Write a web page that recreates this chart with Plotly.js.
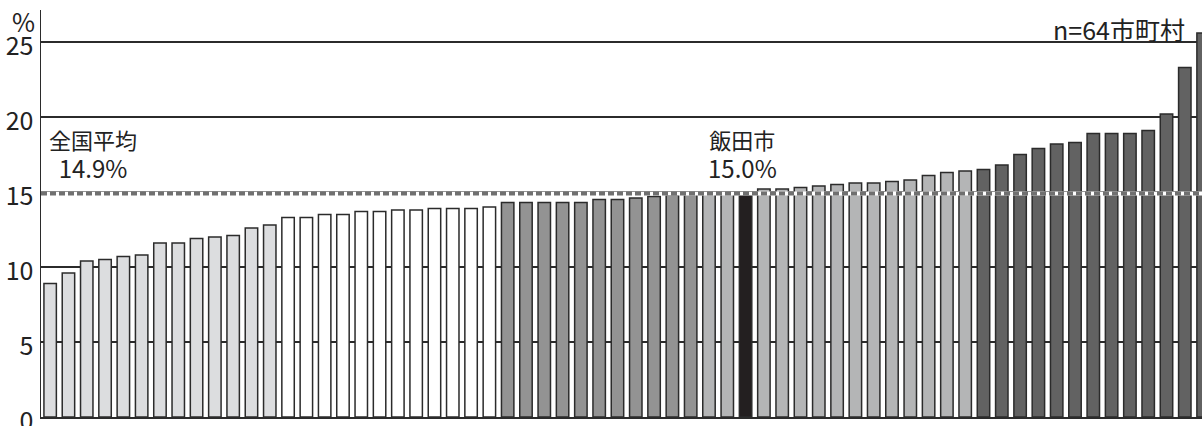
<!DOCTYPE html>
<html>
<head>
<meta charset="utf-8">
<script src="https://cdn.plot.ly/plotly-3.0.1.min.js"></script>
<style>
  html, body { margin: 0; padding: 0; background: #fff; }
  #chart { width: 1202px; height: 426px; }
</style>
</head>
<body>
<div id="chart"></div>
<script>
// ratio per municipality, sorted ascending (n=64)
var values = [
    8.9, 9.6, 10.4, 10.5, 10.7, 10.8, 11.6, 11.6, 11.9, 12.0, 12.1, 12.6, 12.8,
    13.3, 13.3, 13.5, 13.5, 13.7, 13.7, 13.8, 13.8, 13.9, 13.9, 13.9, 14.0,
    14.3, 14.3, 14.3, 14.3, 14.3, 14.5, 14.5, 14.6, 14.7, 14.8, 14.9,
    15.0, 15.0, 15.0, 15.2, 15.2, 15.3, 15.4, 15.5, 15.6, 15.6, 15.7, 15.8, 16.1, 16.3, 16.4,
    16.5, 16.8, 17.5, 17.9, 18.2, 18.3, 18.9, 18.9, 18.9, 19.1, 20.2, 23.3, 25.6
];
// group of each bar (1 = lowest ... 5 = highest), 'iida' = 飯田市
var groups = [
    1,1,1,1,1,1,1,1,1,1,1,1,1,
    2,2,2,2,2,2,2,2,2,2,2,2,
    3,3,3,3,3,3,3,3,3,3,3,
    4,4,'iida',4,4,4,4,4,4,4,4,4,4,4,4,
    5,5,5,5,5,5,5,5,5,5,5,5,5
];
var nationalAvg = 14.9;
var iidaValue = 15.0;
var yTicks = [0, 5, 10, 15, 20, 25];

var groupColors = {1: '#dcdddf', 2: '#ffffff', 3: '#939393', 4: '#b4b5b6', 5: '#626262', iida: '#231f20'};
var xs = values.map(function(v, i) { return i; });
var iidaIndex = groups.indexOf('iida');

var bars = {
    x: xs,
    y: values,
    type: 'bar',
    marker: {
        color: groups.map(function(g) { return groupColors[g]; }),
        line: { color: '#2b2b2b', width: 1.5 }
    },
    hoverinfo: 'y'
};

var fam = 'Noto Sans CJK JP, Noto Sans, sans-serif';
var txt = { family: fam, size: 22, color: '#222' };

var layout = {
    width: 1202,
    height: 426,
    margin: { l: 41, r: 0, t: 10, b: 9 },
    paper_bgcolor: '#fff',
    plot_bgcolor: '#fff',
    showlegend: false,
    bargap: 0.32,
    xaxis: {
        range: [-0.5, 62.94],
        showticklabels: false,
        ticks: '',
        showgrid: false,
        zeroline: false,
        showline: true,
        linecolor: '#2b2b2b',
        linewidth: 1.5,
        fixedrange: true
    },
    yaxis: {
        range: [0, 27.13],
        tickvals: yTicks,
        ticktext: yTicks.map(String),
        tickfont: { family: fam, size: 25, color: '#222' },
        ticks: '',
        ticklabeloverflow: 'allow',
        ticklabelshift: 4,
        showgrid: true,
        gridcolor: '#2b2b2b',
        gridwidth: 1.5,
        zeroline: false,
        showline: true,
        linecolor: '#2b2b2b',
        linewidth: 1.5,
        ticklabelstandoff: 1,
        fixedrange: true
    },
    shapes: [
        { type: 'line', xref: 'paper', x0: 0, x1: 1, yref: 'y', y0: nationalAvg, y1: nationalAvg,
          line: { color: '#ffffff', width: 4 } },
        { type: 'line', xref: 'paper', x0: 0, x1: 1, yref: 'y', y0: nationalAvg, y1: nationalAvg,
          line: { color: '#707070', width: 4, dash: '6px,3px' } }
    ],
    annotations: [
        { text: '%', xref: 'paper', yref: 'paper', x: -0.0152, y: 0.974, xanchor: 'center', yanchor: 'middle',
          showarrow: false, font: { family: fam, size: 25, color: '#222' } },
        { text: 'n=64市町村', xref: 'paper', yref: 'paper', x: 0.987, y: 0.953, xanchor: 'right', yanchor: 'middle',
          showarrow: false, font: { family: fam, size: 25, color: '#222' } },
        { text: '全国平均<br><span style="font-size:24px">' + nationalAvg.toFixed(1) + '%</span>',
          xref: 'x', yref: 'y', x: 2.36, y: 17.55, xanchor: 'center', yanchor: 'middle',
          showarrow: false, font: txt },
        { text: '飯田市<br><span style="font-size:24px">' + iidaValue.toFixed(1) + '%</span>',
          xref: 'x', yref: 'y', x: iidaIndex - 0.15, y: 17.55, xanchor: 'center', yanchor: 'middle',
          showarrow: false, font: txt }
    ]
};

Plotly.newPlot('chart', [bars], layout, { displayModeBar: false, staticPlot: true });
</script>
</body>
</html>
